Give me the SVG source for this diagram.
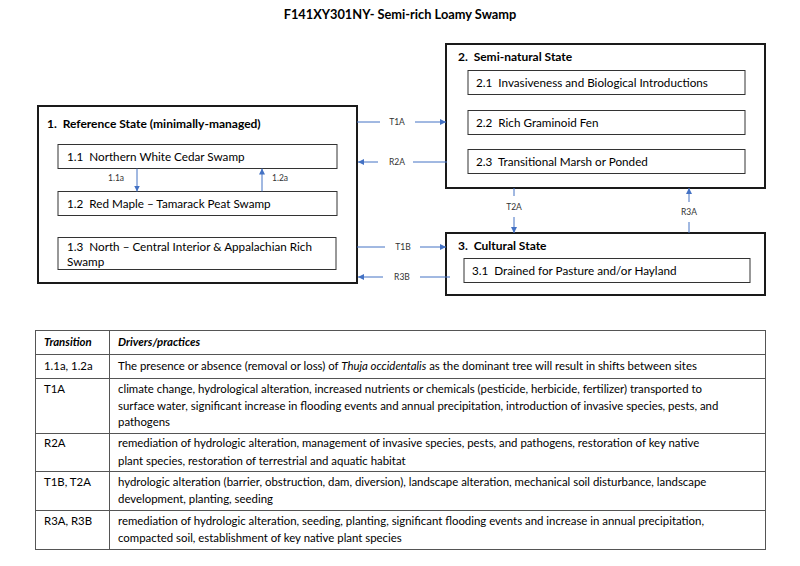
<svg xmlns="http://www.w3.org/2000/svg" width="800" height="566" viewBox="0 0 800 566">
<defs>
<marker id="ah" viewBox="0 0 10 10" refX="10" refY="5" markerWidth="6" markerHeight="6" markerUnits="userSpaceOnUse" orient="auto">
<path d="M0,0 L10,5 L0,10 z" fill="#4472C4"/>
</marker>
<style>
text{font-family:Lato,"Liberation Sans",sans-serif;fill:#000;white-space:pre}
.title{font-size:12.8px;font-weight:bold}
.state{fill:#fff;stroke:#1a1a1a;stroke-width:2}
.sub{fill:#fff;stroke:#333;stroke-width:1}
.st{font-size:12px;font-weight:bold}
.sb{font-size:11.7px}
.lbl{font-size:8.5px;fill:#333}
.con{stroke:#4472C4;stroke-width:1;fill:none}
.tb{stroke:#555;stroke-width:1;fill:none}
.tt{font-size:11.4px}
.th{font-size:11.4px;font-weight:bold;font-style:italic}
</style>
</defs>
<rect width="800" height="566" fill="#fff"/>
<text class="title" x="400" y="19" text-anchor="middle">F141XY301NY- Semi-rich Loamy Swamp</text>

<g id="state1">
<rect class="state" x="38" y="106" width="319" height="177"/>
<text class="st" x="47" y="128" xml:space="preserve">1.  Reference State (minimally-managed)</text>
</g>
<g id="node1-1">
<rect class="sub" x="58" y="144.5" width="279" height="24"/>
<text class="sb" x="67" y="161" xml:space="preserve">1.1  Northern White Cedar Swamp</text>
</g>
<g id="node1-2">
<rect class="sub" x="58" y="191.5" width="279" height="24"/>
<text class="sb" x="67" y="208" xml:space="preserve">1.2  Red Maple – Tamarack Peat Swamp</text>
</g>
<g id="node1-3">
<rect class="sub" x="58" y="237.5" width="278" height="32"/>
<text class="sb" x="67" y="251" xml:space="preserve">1.3  North – Central Interior &amp; Appalachian Rich</text>
<text class="sb" x="67" y="266">Swamp</text>
</g>

<g id="state2">
<rect class="state" x="446" y="44" width="319" height="144"/>
<text class="st" x="458" y="61" xml:space="preserve">2.  Semi-natural State</text>
</g>
<g id="node2-1">
<rect class="sub" x="468" y="70.5" width="277" height="24"/>
<text class="sb" x="476" y="87" xml:space="preserve">2.1  Invasiveness and Biological Introductions</text>
</g>
<g id="node2-2">
<rect class="sub" x="468" y="110.5" width="277" height="24"/>
<text class="sb" x="476" y="127" xml:space="preserve">2.2  Rich Graminoid Fen</text>
</g>
<g id="node2-3">
<rect class="sub" x="468" y="149.5" width="277" height="24"/>
<text class="sb" x="476" y="166" xml:space="preserve">2.3  Transitional Marsh or Ponded</text>
</g>

<g id="state3">
<rect class="state" x="446" y="233" width="319" height="62"/>
<text class="st" x="458" y="250" xml:space="preserve">3.  Cultural State</text>
</g>
<g id="node3-1">
<rect class="sub" x="464" y="258.5" width="286" height="24"/>
<text class="sb" x="472" y="275" xml:space="preserve">3.1  Drained for Pasture and/or Hayland</text>
</g>

<g id="connectors">
<line class="con" x1="137" y1="168.5" x2="137" y2="191.5" marker-end="url(#ah)"/>
<text class="lbl" x="116" y="181" text-anchor="middle">1.1a</text>
<line class="con" x1="262" y1="191.5" x2="262" y2="168.5" marker-end="url(#ah)"/>
<text class="lbl" x="280" y="181" text-anchor="middle">1.2a</text>

<line class="con" x1="357" y1="122" x2="380" y2="122"/>
<line class="con" x1="415" y1="122" x2="446" y2="122" marker-end="url(#ah)"/>
<text class="lbl" x="397" y="125" text-anchor="middle">T1A</text>

<line class="con" x1="447" y1="162" x2="413" y2="162"/>
<line class="con" x1="378" y1="162" x2="358" y2="162" marker-end="url(#ah)"/>
<text class="lbl" x="397" y="165" text-anchor="middle">R2A</text>

<line class="con" x1="357" y1="247" x2="385" y2="247"/>
<line class="con" x1="420" y1="247" x2="446" y2="247" marker-end="url(#ah)"/>
<text class="lbl" x="403" y="250" text-anchor="middle">T1B</text>

<line class="con" x1="450" y1="277" x2="420" y2="277"/>
<line class="con" x1="383" y1="277" x2="358" y2="277" marker-end="url(#ah)"/>
<text class="lbl" x="402" y="280" text-anchor="middle">R3B</text>

<line class="con" x1="514" y1="188" x2="514" y2="196"/>
<line class="con" x1="514" y1="217" x2="514" y2="233" marker-end="url(#ah)"/>
<text class="lbl" x="514" y="210" text-anchor="middle">T2A</text>

<line class="con" x1="689" y1="233" x2="689" y2="222"/>
<line class="con" x1="689" y1="202" x2="689" y2="188" marker-end="url(#ah)"/>
<text class="lbl" x="689" y="215" text-anchor="middle">R3A</text>
</g>

<g id="table">
<rect class="tb" x="35.5" y="330.5" width="730" height="219"/>
<line class="tb" x1="109.5" y1="330.5" x2="109.5" y2="549.5"/>
<line class="tb" x1="35.5" y1="354.5" x2="765.5" y2="354.5"/>
<line class="tb" x1="35.5" y1="378.5" x2="765.5" y2="378.5"/>
<line class="tb" x1="35.5" y1="433.5" x2="765.5" y2="433.5"/>
<line class="tb" x1="35.5" y1="471.5" x2="765.5" y2="471.5"/>
<line class="tb" x1="35.5" y1="510.5" x2="765.5" y2="510.5"/>

<text class="th" x="44" y="346">Transition</text>
<text class="th" x="118" y="346">Drivers/practices</text>

<text class="tt" x="44" y="370">1.1a, 1.2a</text>
<text class="tt" x="118" y="370">The presence or absence (removal or loss) of <tspan font-style="italic">Thuja occidentalis</tspan> as the dominant tree will result in shifts between sites</text>

<text class="tt" x="44" y="393">T1A</text>
<text class="tt" x="118" y="393">climate change, hydrological alteration, increased nutrients or chemicals (pesticide, herbicide, fertilizer) transported to</text>
<text class="tt" x="118" y="410">surface water, significant increase in flooding events and annual precipitation, introduction of invasive species, pests, and</text>
<text class="tt" x="118" y="426">pathogens</text>

<text class="tt" x="44" y="447">R2A</text>
<text class="tt" x="118" y="447">remediation of hydrologic alteration, management of invasive species, pests, and pathogens, restoration of key native</text>
<text class="tt" x="118" y="465">plant species, restoration of terrestrial and aquatic habitat</text>

<text class="tt" x="44" y="486">T1B, T2A</text>
<text class="tt" x="118" y="486">hydrologic alteration (barrier, obstruction, dam, diversion), landscape alteration, mechanical soil disturbance, landscape</text>
<text class="tt" x="118" y="503">development, planting, seeding</text>

<text class="tt" x="44" y="525">R3A, R3B</text>
<text class="tt" x="118" y="525">remediation of hydrologic alteration, seeding, planting, significant flooding events and increase in annual precipitation,</text>
<text class="tt" x="118" y="542">compacted soil, establishment of key native plant species</text>
</g>
</svg>
